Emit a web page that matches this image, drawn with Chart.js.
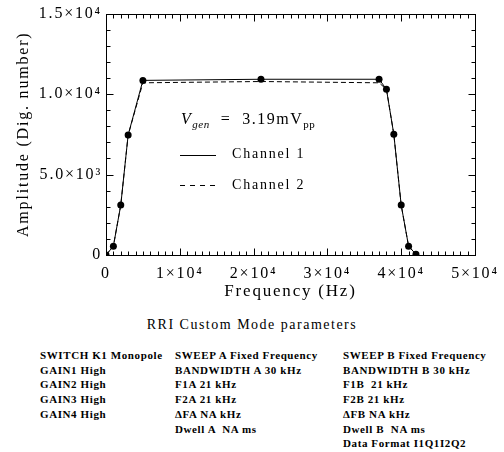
<!DOCTYPE html>
<html lang="en">
<head>
    <meta charset="UTF-8">
    <title>RRI Custom Mode - Amplitude vs Frequency</title>
    <script src="https://cdn.jsdelivr.net/npm/chart.js"></script>
    <style>
        body { margin: 0; background: #fff; }
        .page { position: relative; width: 504px; height: 452px; font-family: "Liberation Serif", serif; color: #000; }
        #ampChart { position: absolute; left: 0; top: 0; }
        .note { position: absolute; white-space: nowrap; line-height: 1; }
        .vgen { left: 181px; top: 111px; font-size: 16px; letter-spacing: 1.5px; }
        .vgen sub { font-size: 11px; vertical-align: -4px; letter-spacing: 0.5px; }
        .chan { left: 232px; font-size: 14px; letter-spacing: 1.8px; }
        .sample { position: absolute; left: 180px; width: 36px; height: 1px; }
        .solid { background: #000; }
        .dashed { background: repeating-linear-gradient(to right, #000 0, #000 5px, transparent 5px, transparent 10px); }
        .params-title { position: absolute; left: 0; width: 504px; top: 317px; text-align: center; font-size: 14px; letter-spacing: 1.5px; }
        .col { position: absolute; top: 348px; font-size: 11px; font-weight: bold; letter-spacing: 0.6px; line-height: 14.7px; white-space: nowrap; }
    </style>
</head>
<body>
    <div class="page">
        <canvas id="ampChart" width="504" height="310"></canvas>

        <!-- legend inside the plot box -->
        <div class="note vgen"><i>V</i><sub><i>gen</i></sub>&nbsp; = &nbsp;3.19mV<sub>pp</sub></div>
        <div class="sample solid" style="top:155px;"></div>
        <div class="note chan" style="top:147px;">Channel 1</div>
        <div class="sample dashed" style="top:185px;"></div>
        <div class="note chan" style="top:178px;">Channel 2</div>

        <div class="params-title">RRI Custom Mode parameters</div>
        <div class="col" id="col1" style="left:40px;"></div>
        <div class="col" id="col2" style="left:175px;"></div>
        <div class="col" id="col3" style="left:343px;"></div>
    </div>

    <script>
        // data
        const freqHz = [0, 1000, 2000, 3000, 5000, 21000, 37000, 38000, 39000, 40000, 41000, 42000];
        const channel1 = [0, 550, 3100, 7450, 10850, 10920, 10920, 10300, 7500, 3100, 550, 40];
        const channel2 = [0, 550, 3100, 7450, 10700, 10780, 10700, 10300, 7500, 3100, 550, 40];

        const xTickLabels = ['0', '1×10⁴', '2×10⁴', '3×10⁴', '4×10⁴', '5×10⁴'];
        const yTickLabels = ['0', '5.0×10³', '1.0×10⁴', '1.5×10⁴'];

        const paramCol1 = ['SWITCH K1 Monopole', 'GAIN1 High', 'GAIN2 High', 'GAIN3 High', 'GAIN4 High'];
        const paramCol2 = ['SWEEP A Fixed Frequency', 'BANDWIDTH A 30 kHz', 'F1A 21 kHz', 'F2A 21 kHz', 'ΔFA NA kHz', 'Dwell A &nbsp;NA ms'];
        const paramCol3 = ['SWEEP B Fixed Frequency', 'BANDWIDTH B 30 kHz', 'F1B &nbsp;21 kHz', 'F2B 21 kHz', 'ΔFB NA kHz', 'Dwell B &nbsp;NA ms', 'Data Format I1Q1I2Q2'];

        document.getElementById('col1').innerHTML = paramCol1.join('<br>');
        document.getElementById('col2').innerHTML = paramCol2.join('<br>');
        document.getElementById('col3').innerHTML = paramCol3.join('<br>');

        const toPoints = (xs, ys) => xs.map((x, i) => ({ x: x, y: ys[i] }));

        // wider lettering for the axis text, like the original plot
        const wideText = {
            id: 'wideText',
            beforeDraw(chart) {
                chart.ctx.letterSpacing = '1.8px';
            }
        };

        // box round the plot with inward ticks on all four sides
        const boxTicks = {
            id: 'boxTicks',
            afterDatasetsDraw(chart) {
                const { ctx, chartArea: a, scales: { x, y } } = chart;
                const L = Math.round(a.left) + 0.5, R = Math.round(a.right) + 0.5;
                const T = Math.round(a.top) + 0.5, B = Math.round(a.bottom) + 0.5;
                ctx.save();
                ctx.strokeStyle = '#000';
                ctx.lineWidth = 1;
                ctx.strokeRect(L, T, R - L, B - T);
                ctx.beginPath();
                for (let v = 0; v <= 50000; v += 1000) {
                    const px = Math.round(x.getPixelForValue(v)) + 0.5;
                    const len = v % 10000 === 0 ? 7 : 4;
                    ctx.moveTo(px, B); ctx.lineTo(px, B - len);
                    ctx.moveTo(px, T); ctx.lineTo(px, T + len);
                }
                for (let v = 0; v <= 15000; v += 1000) {
                    const py = Math.round(y.getPixelForValue(v)) + 0.5;
                    const len = v % 5000 === 0 ? 7 : 4;
                    ctx.moveTo(L, py); ctx.lineTo(L + len, py);
                    ctx.moveTo(R, py); ctx.lineTo(R - len, py);
                }
                ctx.stroke();
                ctx.restore();
            }
        };

        const tickFont = { family: '"Liberation Serif", serif', size: 16 };
        const titleFont = { family: '"Liberation Serif", serif', size: 17 };

        new Chart(document.getElementById('ampChart'), {
            type: 'line',
            data: {
                datasets: [
                    {
                        label: 'Channel 2',
                        data: toPoints(freqHz, channel2),
                        borderColor: '#000',
                        borderWidth: 1,
                        borderDash: [5, 3],
                        pointRadius: 0,
                        tension: 0,
                        clip: 0
                    },
                    {
                        label: 'Channel 1',
                        data: toPoints(freqHz, channel1),
                        borderColor: '#000',
                        backgroundColor: '#000',
                        borderWidth: 1,
                        pointRadius: 3.5,
                        pointBackgroundColor: '#000',
                        pointBorderWidth: 0,
                        tension: 0,
                        clip: 0
                    }
                ]
            },
            options: {
                responsive: false,
                animation: false,
                layout: { padding: { top: 10, right: 29, left: 0, bottom: 0 } },
                plugins: {
                    legend: { display: false },
                    tooltip: { enabled: false }
                },
                scales: {
                    x: {
                        type: 'linear',
                        min: 0,
                        max: 50000,
                        afterFit: s => { s.height = 55; },
                        grid: { display: false, drawTicks: false },
                        border: { display: false },
                        ticks: {
                            stepSize: 10000,
                            autoSkip: false,
                            maxRotation: 0,
                            padding: 9,
                            color: '#000',
                            font: tickFont,
                            callback: (v) => xTickLabels[Math.round(v / 10000)]
                        },
                        title: {
                            display: true,
                            text: 'Frequency (Hz)',
                            color: '#000',
                            font: titleFont,
                            padding: { top: 0, bottom: 8 }
                        }
                    },
                    y: {
                        min: 0,
                        max: 15000,
                        afterFit: s => { s.width = 106; },
                        grid: { display: false, drawTicks: false },
                        border: { display: false },
                        ticks: {
                            stepSize: 5000,
                            padding: 4,
                            color: '#000',
                            font: tickFont,
                            callback: (v) => yTickLabels[Math.round(v / 5000)]
                        },
                        title: {
                            display: true,
                            text: 'Amplitude (Dig. number)',
                            color: '#000',
                            font: { family: '"Liberation Serif", serif', size: 16 },
                            padding: { top: 14, bottom: 4 }
                        }
                    }
                }
            },
            plugins: [wideText, boxTicks]
        });
    </script>
</body>
</html>
